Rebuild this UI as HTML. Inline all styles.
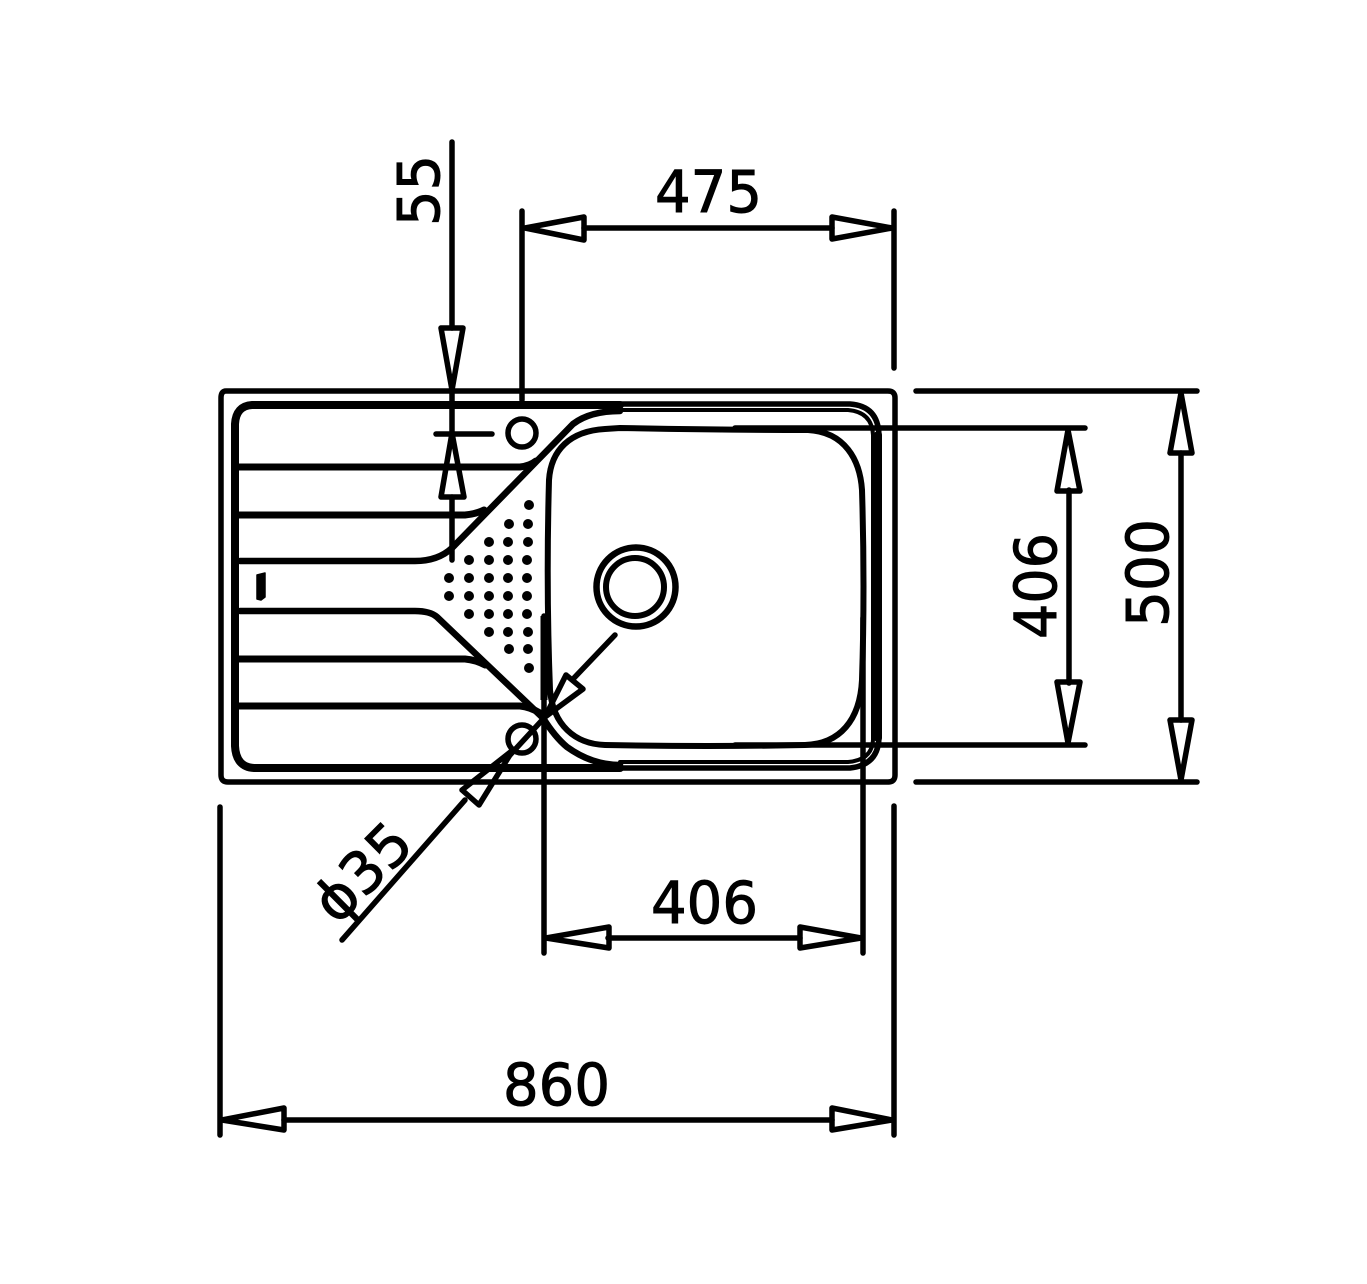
<!DOCTYPE html>
<html><head><meta charset="utf-8"><style>
html,body{margin:0;padding:0;background:#fff}
svg{display:block}
text{font-family:"DejaVu Sans","Liberation Sans",sans-serif;font-size:58px;fill:#000;stroke:#000;stroke-width:1;font-weight:normal}
</style></head><body>
<svg width="1367" height="1284" viewBox="0 0 1367 1284" xmlns="http://www.w3.org/2000/svg">
<rect width="1367" height="1284" fill="#fff"/>
<g fill="none" stroke="#000" stroke-linecap="round" stroke-linejoin="round">
<!-- outer -->
<path d="M226 391H888Q895 391 895 398V775Q895 782 888 782H228Q221 782 221 775V398Q221 391 226 391Z" stroke-width="5.5"/>
<!-- drainer rim -->
<path d="M620 405H252Q236 406 235 424V746Q236 767 254 768H620" stroke-width="8"/>
<!-- rim right -->
<path d="M620 404H850Q878 406 879 435V738Q878 765 850 768H620" stroke-width="5.5"/>
<path d="M620 410H848Q872 412 873 435V740Q872 760 848 762H620" stroke-width="4"/>
<path d="M878 435V738" stroke-width="8"/>
<!-- drainer boundary -->
<path d="M620 411Q590 411 573 424L452 548Q438 561 415 561H240" stroke-width="6.5"/>
<path d="M620 765Q592 765 567 747Q555 737 543 718L437 617Q430 611 415 611H240" stroke-width="6.5"/>
<path d="M238 467H520Q530 466 536 461" stroke-width="7"/>
<path d="M238 515H465Q476 514 484 510" stroke-width="7"/>
<path d="M238 659H465Q476 660 485 665" stroke-width="7"/>
<path d="M238 706H520Q530 707 540 713" stroke-width="7"/>
<!-- bowl -->
<path d="M620 428Q720 430 808 430C845 432 860 460 862 490Q865 587 862 680C860 720 840 744 805 745Q710 747 605 745C575 744 553 725 550 690Q546 587 549 480C551 450 570 431 605 429Z" stroke-width="6"/>
<!-- holes -->
<circle cx="522" cy="433" r="14" stroke-width="5.5"/>
<circle cx="522" cy="739" r="14" stroke-width="5.5"/>
<path d="M436 434H492" stroke-width="5.5"/>
<!-- drain -->
<circle cx="636" cy="587" r="39.5" stroke-width="6.5"/>
<circle cx="635" cy="587" r="29" stroke-width="6"/>
<!-- dim 55 -->
<path d="M452 142V328M452 497V560" stroke-width="5.5"/>
<path d="M452 390L441 328H463Z M452 433L441 497H464Z" stroke-width="5.5"/>
<path d="M452 390V433" stroke-width="5.5"/>
<!-- dim 475 -->
<path d="M522 211V400" stroke-width="5.5"/>
<path d="M894 211V368" stroke-width="5.5"/>
<path d="M584 228H832" stroke-width="5.5"/>
<path d="M525 228L584 217V240Z" stroke-width="5.5"/>
<path d="M892 228L832 217V239Z" stroke-width="5.5"/>
<!-- dim 500 -->
<path d="M916 391H1197M916 782H1197M1181 453V720" stroke-width="5.5"/>
<path d="M1181 393L1170 453H1192Z M1181 780L1170 720H1192Z" stroke-width="5.5"/>
<!-- dim 406 v -->
<path d="M735 428H1085M735 745H1085M1069 490V683" stroke-width="5.5"/>
<path d="M1068 430L1057 491H1080Z M1068 743L1057 682H1080Z" stroke-width="5.5"/>
<!-- dim 406 h -->
<path d="M544 616V953M863 618V953M608 938H800" stroke-width="5.5"/>
<path d="M546 938L609 927V948Z M861 938L800 927V948Z" stroke-width="5.5"/>
<!-- dim 860 -->
<path d="M220 807V1135M894 806V1135M284 1120H832" stroke-width="5.5"/>
<path d="M222 1120L284 1108V1130Z M892 1120L832 1108V1130Z" stroke-width="5.5"/>
<!-- phi dim -->
<path d="M342 940L465 800M615 635L574 678M545 717L510 755" stroke-width="5.5"/>
<path d="M513 750L462 790L479 805Z" stroke-width="5.5"/>
<path d="M545 717L566 675L583 689Z" stroke-width="5.5"/>
</g>
<path d="M544 616V700" stroke="#000" stroke-width="7" fill="none"/>
<path d="M257 575L265 573V597L261 600L257 599Z" fill="#000" stroke="#000" stroke-width="1.5" stroke-linejoin="round"/>
<!-- dots -->
<g fill="#000">
<circle cx="529" cy="505" r="5"/>
<circle cx="509" cy="524" r="5"/><circle cx="528" cy="524" r="5"/>
<circle cx="489" cy="542" r="5"/><circle cx="508" cy="542" r="5"/><circle cx="528" cy="542" r="5"/>
<circle cx="469" cy="560" r="5"/><circle cx="489" cy="560" r="5"/><circle cx="508" cy="560" r="5"/><circle cx="527" cy="560" r="5"/>
<circle cx="449" cy="578" r="5"/><circle cx="469" cy="578" r="5"/><circle cx="489" cy="578" r="5"/><circle cx="508" cy="578" r="5"/><circle cx="527" cy="578" r="5"/>
<circle cx="449" cy="596" r="5"/><circle cx="469" cy="596" r="5"/><circle cx="489" cy="596" r="5"/><circle cx="508" cy="596" r="5"/><circle cx="527" cy="596" r="5"/>
<circle cx="469" cy="614" r="5"/><circle cx="489" cy="614" r="5"/><circle cx="508" cy="614" r="5"/><circle cx="527" cy="614" r="5"/>
<circle cx="489" cy="632" r="5"/><circle cx="508" cy="632" r="5"/><circle cx="528" cy="632" r="5"/>
<circle cx="509" cy="649" r="5"/><circle cx="528" cy="649" r="5"/>
<circle cx="529" cy="668" r="5"/>
</g>
<!-- labels -->
<text x="655" y="212" textLength="107" lengthAdjust="spacingAndGlyphs">475</text>
<text x="651" y="923" textLength="107" lengthAdjust="spacingAndGlyphs">406</text>
<text x="503" y="1105" textLength="107" lengthAdjust="spacingAndGlyphs">860</text>
<text transform="translate(439,226) rotate(-90)" textLength="71" lengthAdjust="spacingAndGlyphs">55</text>
<text transform="translate(1056,639) rotate(-90)" textLength="106" lengthAdjust="spacingAndGlyphs">406</text>
<text transform="translate(1168,627) rotate(-90)" textLength="108" lengthAdjust="spacingAndGlyphs">500</text>
<text transform="translate(337,926) rotate(-45)" textLength="112" lengthAdjust="spacingAndGlyphs">ϕ35</text>
</svg>
</body></html>
